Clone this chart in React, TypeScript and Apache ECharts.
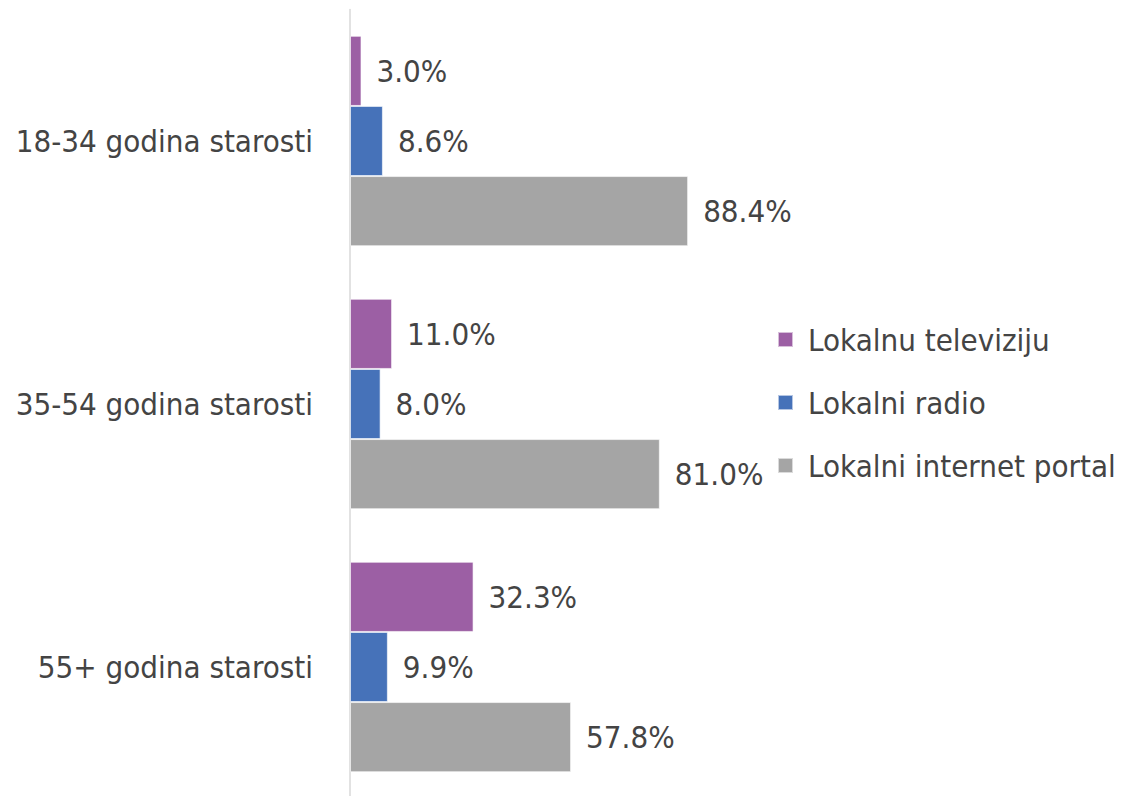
import React, { useEffect, useRef } from "react";
import * as echarts from "echarts";

const categories = ["18-34 godina starosti", "35-54 godina starosti", "55+ godina starosti"];
const seriesNames = ["Lokalnu televiziju", "Lokalni radio", "Lokalni internet portal"];
const tvValues = [3.0, 11.0, 32.3];
const radioValues = [8.6, 8.0, 9.9];
const portalValues = [88.4, 81.0, 57.8];
const colors = ["#9C5FA4", "#4672B9", "#A5A5A5"];

const FONT = "'Liberation Sans Narrow', 'DejaVu Sans Condensed', sans-serif";

export default function App() {
  const ref = useRef<HTMLDivElement>(null);
  useEffect(() => {
    if (!ref.current) return;
    const chart = echarts.init(ref.current, null, { renderer: "svg" });
    const values = [tvValues, radioValues, portalValues];
    chart.setOption({
      animation: false,
      backgroundColor: "#ffffff",
      textStyle: { fontFamily: FONT },
      grid: { left: 350, right: 394.5, top: 9.5, bottom: -2.5, containLabel: false, outerBoundsMode: "none" },
      legend: {
        orient: "vertical",
        left: 772,
        top: 319,
        icon: "rect",
        itemWidth: 15,
        itemHeight: 15,
        itemGap: 32,
        data: seriesNames,
        textStyle: { fontFamily: FONT, fontSize: 31, color: "#444444", padding: [0, 0, 0, 10] },
      },
      xAxis: {
        type: "value",
        min: 0,
        max: 100,
        show: false,
      },
      yAxis: {
        type: "category",
        inverse: true,
        data: categories,
        axisLine: { show: true, lineStyle: { color: "#d9d9d9", width: 1.5 } },
        axisTick: { show: false },
        axisLabel: { margin: 37, fontSize: 31, color: "#444444", fontFamily: FONT },
      },
      series: seriesNames.map((name, i) => ({
        name,
        type: "bar",
        data: values[i],
        barGap: "0%",
        barCategoryGap: "20%",
        itemStyle: { color: colors[i], borderColor: "rgba(255,255,255,0.6)", borderWidth: 1 },
        label: {
          show: true,
          position: "right",
          distance: 15,
          fontSize: 31,
          color: "#444444",
          fontFamily: FONT,
          formatter: (p: any) => `${Number(p.value).toFixed(1)}%`,
        },
      })),
    });
    return () => chart.dispose();
  }, []);
  return <div ref={ref} style={{ width: 1127, height: 796, position: "fixed", left: 0, top: 0 }} />;
}
